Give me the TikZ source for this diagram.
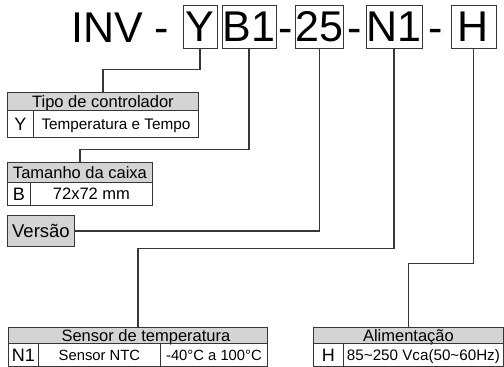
\documentclass[tikz,border=0pt]{standalone}
\usepackage{fontspec}
\setmainfont{Liberation Sans}
\definecolor{hdrgray}{RGB}{212,212,212}
\definecolor{ink}{RGB}{55,55,55}
\newcommand{\fs}[1]{\fontsize{#1}{#1}\selectfont}
\begin{document}
\begin{tikzpicture}[x=1pt,y=-1pt,
  % font size and cap height, so that capitals sit centred in their cell
  txt/.style={font=\fs{#1},text height=0.716*#1 pt,text depth=0pt},
  codebox/.style={draw=ink,line width=0.9pt,inner sep=0pt,minimum height=43pt,txt=43},
  codetext/.style={inner sep=0pt,font=\fs{43},anchor=base},
  conn/.style={draw=ink,line width=1.2pt},
  cell/.style={draw=ink,line width=0.9pt,inner sep=0pt,anchor=north west},
  hdr/.style={cell,fill=hdrgray,txt=16.5},
]
\useasboundingbox (0,0) rectangle (504,367);

% product code
\node[codetext,anchor=base west] (inv) at (71,42) {INV -};
\node[codebox,minimum width=34pt] (cY) at (200,26.5) {Y};
\node[codebox,minimum width=54pt] (cB) at (249,26.5) {B1};
\node[codetext] (d1) at (286,42) {-};
\node[codebox,minimum width=47pt] (c25) at (319.5,26.5) {25};
\node[codetext] (d2) at (355,42) {-};
\node[codebox,minimum width=56pt] (cN) at (394,26.5) {N1};
\node[codetext] (d3) at (436,42) {-};
\node[codebox,minimum width=45pt] (cH) at (473.5,26.5) {H};

% controller type
\node[hdr,minimum width=191pt,minimum height=18pt] (tipoh) at (7,92) {Tipo de controlador};
\node[cell,minimum width=26pt,minimum height=27pt,txt=18] (tipok) at (7,110) {Y};
\node[cell,minimum width=165pt,minimum height=27pt,txt=15.3] (tipov) at (33,110) {Temperatura e Tempo};

% box size
\node[hdr,minimum width=145pt,minimum height=20pt] (tamh) at (7,162) {Tamanho da caixa};
\node[cell,minimum width=23pt,minimum height=23pt,txt=18] (tamk) at (7,182) {B};
\node[cell,minimum width=122pt,minimum height=23pt,txt=16.5] (tamv) at (30,182) {72x72 mm};

% version
\node[hdr,minimum width=67pt,minimum height=31pt,txt=18.5] (versao) at (7,215) {Versão};

% temperature sensor
\node[hdr,minimum width=259pt,minimum height=16pt,
  label={[txt=16.5,inner sep=0pt,xshift=8pt]center:Sensor de temperatura}] (senh) at (8,327) {};
\node[cell,minimum width=30pt,minimum height=23pt,txt=18] (senk) at (8,343) {N1};
\node[cell,minimum width=122pt,minimum height=23pt,txt=14.8] (senv) at (38,343) {Sensor NTC};
\node[cell,minimum width=107pt,minimum height=23pt,txt=14.8] (senr) at (160,343) {-40°C a 100°C};

% power supply
\node[hdr,minimum width=190pt,minimum height=16pt] (alih) at (313,327) {Alimentação};
\node[cell,minimum width=30pt,minimum height=23pt,txt=18] (alik) at (313,343) {H};
\node[cell,minimum width=160pt,minimum height=23pt,txt=15.2] (aliv) at (343,343) {85\textasciitilde250 Vca(50\textasciitilde60Hz)};

% connectors
\draw[conn] (cY.south) -- ++(0,21) -| (tipoh.north);
\draw[conn] (cB.south) -- ++(0,101) -| (tamh.north);
\draw[conn] (c25.south) |- (versao.east);
\draw[conn] (cN.south) -- ++(0,200) -| (senh.north);
\draw[conn] (cH.south) -- ++(0,215) -| (alih.north);
\end{tikzpicture}
\end{document}
